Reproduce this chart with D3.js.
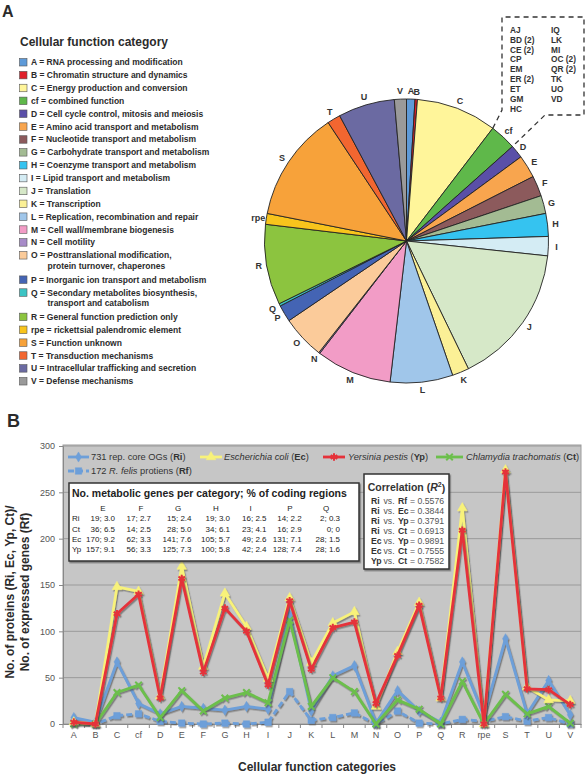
<!DOCTYPE html>
<html><head><meta charset="utf-8">
<script src="https://cdn.jsdelivr.net/npm/d3@7"></script>
<style>body{margin:0;background:#fff}svg{display:block;font-family:"Liberation Sans",Arial,sans-serif}</style>
</head><body><svg id="c" width="585" height="776"></svg>
<script>
const categories = ["A","B","C","cf","D","E","F","G","H","I","J","K","L","M","N","O","P","Q","R","rpe","S","T","U","V"];
const legendLabels = [
 ["A = RNA processing and modification"],
 ["B = Chromatin structure and dynamics"],
 ["C = Energy production and conversion"],
 ["cf = combined function"],
 ["D = Cell cycle control, mitosis and meiosis"],
 ["E = Amino acid transport and metabolism"],
 ["F = Nucleotide transport and metabolism"],
 ["G = Carbohydrate transport and metabolism"],
 ["H = Coenzyme transport and metabolism"],
 ["I = Lipid transport and metabolism"],
 ["J = Translation"],
 ["K = Transcription"],
 ["L = Replication, recombination and repair"],
 ["M = Cell wall/membrane biogenesis"],
 ["N = Cell motility"],
 ["O = Posttranslational modification,","protein turnover, chaperones"],
 ["P = Inorganic ion transport and metabolism"],
 ["Q = Secondary metabolites biosynthesis,","transport and catabolism"],
 ["R = General function prediction only"],
 ["rpe = rickettsial palendromic element"],
 ["S = Function unknown"],
 ["T = Transduction mechanisms"],
 ["U = Intracellular trafficking and secretion"],
 ["V = Defense mechanisms"]];
const pieColors = ["#5e9ad8","#e0202a","#fff59a","#5fb84a","#5a4fa8","#f8a54e","#8c5a5c","#a3bb93","#35c3f0","#d4ecf4","#d6e8c8","#fbf096","#a0c6ea","#f29cc6","#a78bc8","#fbcb9a","#4464b4","#3cc4c4","#8cc43f","#f8c41c","#f7a23a","#f26630","#6b6aa2","#9a9a9a"];

// series values (number of proteins per category)
const riValues = [7,2,67,22,11,19,17,15,19,16,118,14,52,63,1,36,14,2,67,9,92,11,47,10];
const rfValues = [1,0,9,11,3,1,0,1,0,2,35,4,7,12,0,14,1,0,5,3,8,3,7,0];
const ecValues = [2,0,148,143,30,170,62,141,105,49,136,66,109,121,19,78,131,28,233,0,274,40,26,25];
const ypValues = [2,0,119,140,28,157,56,125,100,42,133,59,104,110,22,74,128,28,209,0,272,38,37,21];
const ctValues = [0,0,34,42,7,36,14,28,34,23,112,19,50,35,0,26,16,0,46,0,32,11,19,1];
const yTicks = [0,50,100,150,200,250,300];

const overlapCol1 = ["AJ","BD (2)","CE (2)","CP","EM","ER (2)","ET","GM","HC"];
const overlapCol2 = ["IQ","LK","MI","OC (2)","QR (2)","TK","UO","VD"];

const tableCols = ["E","F","G","H","I","P","Q"];
const tableRows = ["Ri","Ct","Ec","Yp"];
const tableRi = ["19; 3.0","17; 2.7","15; 2.4","19; 3.0","16; 2.5","14; 2.2","2; 0.3"];
const tableCt = ["36; 6.5","14; 2.5","28; 5.0","34; 6.1","23; 4.1","16; 2.9","0; 0"];
const tableEc = ["170; 9.2","62; 3.3","141; 7.6","105; 5.7","49; 2.6","131; 7.1","28; 1.5"];
const tableYp = ["157; 9.1","56; 3.3","125; 7.3","100; 5.8","42; 2.4","128; 7.4","28; 1.6"];

const corrA = ["Ri","Ri","Ri","Ri","Ec","Ec","Yp"];
const corrB = ["Rf","Ec","Yp","Ct","Yp","Ct","Ct"];
const corrR2 = ["0.5576","0.3844","0.3791","0.6913","0.9891","0.7555","0.7582"];

const svg = d3.select("#c");
const txt = "#2b2b2b";

// ---------- Panel A ----------
svg.append("text").attr("x",2).attr("y",17).attr("font-size",16).attr("font-weight","bold").attr("fill",txt).text("A");
svg.append("text").attr("x",20).attr("y",46).attr("font-size",12).attr("font-weight","bold").attr("fill",txt).text("Cellular function category");

let ly = 62.3;
const lg = svg.append("g");
legendLabels.forEach((lines,i)=>{
  lg.append("rect").attr("x",19.5).attr("y",ly-3.8).attr("width",7.5).attr("height",7.5)
    .attr("fill",pieColors[i]).attr("stroke","#555").attr("stroke-width",0.6);
  lines.forEach((l,j)=>{
    lg.append("text").attr("x", j===0?31:47.5).attr("y",ly+j*10.8).attr("dy","0.35em")
      .attr("font-size",8.5).attr("font-weight","bold").attr("fill",txt).text(l);
  });
  ly += 12.87 + (lines.length-1)*11.5;
});

const cx = 406.5, cy = 241, R = 142;
const pie = d3.pie().sort(null).value(d=>d).startAngle(0).endAngle(2*Math.PI);
const arcs = pie(riValues);
const arc = d3.arc().innerRadius(0).outerRadius(R);
const pg = svg.append("g").attr("transform",`translate(${cx},${cy})`);
pg.selectAll("path").data(arcs).join("path").attr("d",arc)
  .attr("fill",(d,i)=>pieColors[i]).attr("stroke","#222").attr("stroke-width",0.9).attr("stroke-linejoin","round");
pg.selectAll("text").data(arcs).join("text")
  .attr("x",d=>150*Math.sin((d.startAngle+d.endAngle)/2))
  .attr("y",d=>-150*Math.cos((d.startAngle+d.endAngle)/2))
  .attr("text-anchor","middle").attr("dy","0.35em")
  .attr("font-size",9).attr("font-weight","bold").attr("fill","#333")
  .text((d,i)=>categories[i]);

// dashed box for combined-function breakdown
const cfIdx = categories.indexOf("cf");
const a0 = arcs[cfIdx].startAngle, a1 = arcs[cfIdx].endAngle;
const p0 = [cx+R*Math.sin(a0), cy-R*Math.cos(a0)];
const p1 = [cx+R*Math.sin(a1), cy-R*Math.cos(a1)];
svg.append("path")
  .attr("d", d3.line()([p0,[502,110],[502,17],[584,17],[584,115],[545,115],p1]))
  .attr("fill","none").attr("stroke","#333").attr("stroke-width",1.3).attr("stroke-dasharray","5,4");
overlapCol1.forEach((t,i)=>svg.append("text").attr("x",510).attr("y",30+i*9.85).attr("dy","0.35em")
  .attr("font-size",8.3).attr("font-weight","bold").attr("fill","#333").text(t));
overlapCol2.forEach((t,i)=>svg.append("text").attr("x",551).attr("y",30+i*9.85).attr("dy","0.35em")
  .attr("font-size",8.3).attr("font-weight","bold").attr("fill","#333").text(t));

// ---------- Panel B ----------
svg.append("text").attr("x",7).attr("y",427).attr("font-size",18).attr("font-weight","bold").attr("fill",txt).text("B");

const x = d3.scaleBand().domain(categories).range([63,581]);
const xc = c => x(c)+x.bandwidth()/2;
const y = d3.scaleLinear().domain([0,300]).range([724,446]);

const defs = svg.append("defs");
const f = defs.append("filter").attr("id","sh").attr("x","-10%").attr("y","-10%").attr("width","120%").attr("height","120%");
f.append("feDropShadow").attr("dx",1.2).attr("dy",1.5).attr("stdDeviation",0.7).attr("flood-color","#444").attr("flood-opacity",0.55);

svg.append("rect").attr("x",63).attr("y",y(300)-1).attr("width",518).attr("height",y(0)-y(300)+1)
  .attr("fill","#c6c6c6").attr("stroke","#9c9c9c").attr("stroke-width",1);
svg.append("g").selectAll("line").data(yTicks.filter(t=>t>0)).join("line")
  .attr("x1",63).attr("x2",581).attr("y1",d=>y(d)).attr("y2",d=>y(d))
  .attr("stroke","#9a9a9a").attr("stroke-width",1);

const yAx = svg.append("g").attr("transform","translate(63,0)")
  .call(d3.axisLeft(y).tickValues(yTicks).tickSize(4).tickPadding(4));
yAx.selectAll("text").attr("font-size",9).attr("fill","#555").attr("font-family","Liberation Sans, Arial, sans-serif");
yAx.selectAll("line,path").attr("stroke","#888");

const xAx = svg.append("g").attr("transform",`translate(0,${y(0)})`)
  .call(d3.axisBottom(x).tickSize(0).tickPadding(8));
xAx.selectAll("text").attr("font-size",9).attr("fill","#555").attr("font-family","Liberation Sans, Arial, sans-serif");
xAx.select("path").attr("stroke","#888");
svg.append("g").selectAll("line").data(categories.concat(["end"])).join("line")
  .attr("x1",(d,i)=>63+i*x.step()).attr("x2",(d,i)=>63+i*x.step())
  .attr("y1",y(0)).attr("y2",y(0)+4).attr("stroke","#888");

// axis titles
svg.append("text").attr("transform","translate(10,592) rotate(-90)").attr("text-anchor","middle").attr("dy","0.35em")
  .attr("font-size",12).attr("font-weight","bold").attr("fill",txt).text("No. of proteins (Ri, Ec, Yp, Ct)/");
svg.append("text").attr("transform","translate(25,592) rotate(-90)").attr("text-anchor","middle").attr("dy","0.35em")
  .attr("font-size",12).attr("font-weight","bold").attr("fill",txt).text("No. of expressed genes (Rf)");
svg.append("text").attr("x",317).attr("y",767).attr("text-anchor","middle").attr("dy","0.35em")
  .attr("font-size",12).attr("font-weight","bold").attr("fill",txt).text("Cellular function categories");

// series
const series = [
  {key:"Rf", values:rfValues, color:"#6d9fd9", dash:"6,3", sym:d3.symbolSquare, size:42, fillSym:true,
   label:[["172 ",""],["R. felis","i"],[" protiens (",""],["Rf","b"],[")",""]], lx:[68,89], tx:91, ly:471},
  {key:"Ri", values:riValues, color:"#6d9fd9", dash:null, sym:d3.symbolDiamond, size:30, fillSym:true,
   label:[["731 rep. core OGs (",""],["Ri","b"],[")",""]], lx:[68,89], tx:91, ly:457},
  {key:"Ct", values:ctValues, color:"#6cbf4c", dash:null, sym:d3.symbolX, size:30, fillSym:false,
   label:[["Chlamydia trachomatis","i"],[" (",""],["Ct","b"],[")",""]], lx:[436,463], tx:466, ly:457},
  {key:"Ec", values:ecValues, color:"#f8f27a", dash:null, sym:d3.symbolTriangle, size:40, fillSym:true,
   label:[["Escherichia coli","i"],[" (",""],["Ec","b"],[")",""]], lx:[200,222], tx:224, ly:457},
  {key:"Yp", values:ypValues, color:"#e5323a", dash:null, sym:d3.symbolAsterisk, size:40, fillSym:false,
   label:[["Yersinia pestis","i"],[" (",""],["Yp","b"],[")",""]], lx:[323,345], tx:348, ly:457}
];
const line = d3.line().x((d,i)=>xc(categories[i])).y(d=>y(d));
series.forEach(s=>{
  const g = svg.append("g").attr("filter","url(#sh)");
  g.append("path").attr("d",line(s.values)).attr("fill","none").attr("stroke",s.color)
    .attr("stroke-width",2.8).attr("stroke-linejoin","round").attr("stroke-dasharray",s.dash);
  const sym = d3.symbol().type(s.sym).size(s.size);
  g.selectAll(".m").data(s.values).join("path")
    .attr("transform",(d,i)=>`translate(${xc(categories[i])},${y(d)})`).attr("d",sym())
    .attr("fill",s.fillSym?s.color:"none").attr("stroke",s.color).attr("stroke-width",s.fillSym?0.5:2);
});
// legend
series.forEach(s=>{
  const g = svg.append("g");
  g.append("line").attr("x1",s.lx[0]).attr("x2",s.lx[1]).attr("y1",s.ly).attr("y2",s.ly)
    .attr("stroke",s.color).attr("stroke-width",2.8).attr("stroke-dasharray",s.dash);
  g.append("path").attr("transform",`translate(${(s.lx[0]+s.lx[1])/2},${s.ly})`)
    .attr("d",d3.symbol().type(s.sym).size(s.size)())
    .attr("fill",s.fillSym?s.color:"none").attr("stroke",s.color).attr("stroke-width",s.fillSym?0.5:2);
  const t = g.append("text").attr("x",s.tx).attr("y",s.ly).attr("dy","0.35em").attr("font-size",9.3).attr("fill","#333");
  s.label.forEach(([str,st])=>{
    const ts = t.append("tspan").text(str);
    if(st==="i") ts.attr("font-style","italic");
    if(st==="b") ts.attr("font-weight","bold");
  });
});

// metabolic table box
const tb = svg.append("g");
tb.append("rect").attr("x",69).attr("y",483).attr("width",290).attr("height",78)
  .attr("fill","#fff").attr("stroke","#333").attr("stroke-width",1.5).attr("filter","url(#sh)");
tb.append("text").attr("x",72).attr("y",493).attr("dy","0.35em").attr("font-size",10.5).attr("font-weight","bold").attr("fill","#222")
  .text("No. metabolic genes per category; % of coding regions");
const colRight = [115,151,191.5,230,266.5,301.7,340];
const colCenter = [103,141,178,216,250.7,290,326];
tableCols.forEach((c,i)=>tb.append("text").attr("x",colCenter[i]).attr("y",508).attr("dy","0.35em")
  .attr("text-anchor","middle").attr("font-size",8).attr("fill","#222").text(c));
const tableData = [tableRi,tableCt,tableEc,tableYp];
tableRows.forEach((r,ri)=>{
  const yy = 518.5 + ri*10.2;
  tb.append("text").attr("x",72).attr("y",yy).attr("dy","0.35em").attr("font-size",8).attr("fill","#222").text(r);
  tableData[ri].forEach((v,ci)=>tb.append("text").attr("x",colRight[ci]).attr("y",yy).attr("dy","0.35em")
    .attr("text-anchor","end").attr("font-size",8).attr("fill","#222").text(v));
});

// correlation box
const cb = svg.append("g");
cb.append("rect").attr("x",364).attr("y",474).attr("width",85).attr("height",95)
  .attr("fill","#fff").attr("stroke","#333").attr("stroke-width",1.5).attr("filter","url(#sh)");
const ct = cb.append("text").attr("x",406.5).attr("y",487).attr("dy","0.35em").attr("text-anchor","middle")
  .attr("font-size",10.5).attr("font-weight","bold").attr("fill","#333");
ct.append("tspan").text("Correlation (");
ct.append("tspan").attr("font-style","italic").text("R");
ct.append("tspan").attr("font-size",7).attr("dy","-0.5em").text("2");
ct.append("tspan").attr("dy","0.5em").text(")");
corrR2.forEach((v,i)=>{
  const yy = 500.5 + i*10.05;
  cb.append("text").attr("x",371).attr("y",yy).attr("dy","0.35em").attr("font-size",8.7).attr("font-weight","bold").attr("fill","#333").text(corrA[i]);
  cb.append("text").attr("x",383.5).attr("y",yy).attr("dy","0.35em").attr("font-size",8.7).attr("fill","#555").text("vs.");
  cb.append("text").attr("x",398).attr("y",yy).attr("dy","0.35em").attr("font-size",8.7).attr("font-weight","bold").attr("fill","#333").text(corrB[i]);
  cb.append("text").attr("x",410).attr("y",yy).attr("dy","0.35em").attr("font-size",8.7).attr("fill","#555").text("= "+v);
});
</script></body></html>
